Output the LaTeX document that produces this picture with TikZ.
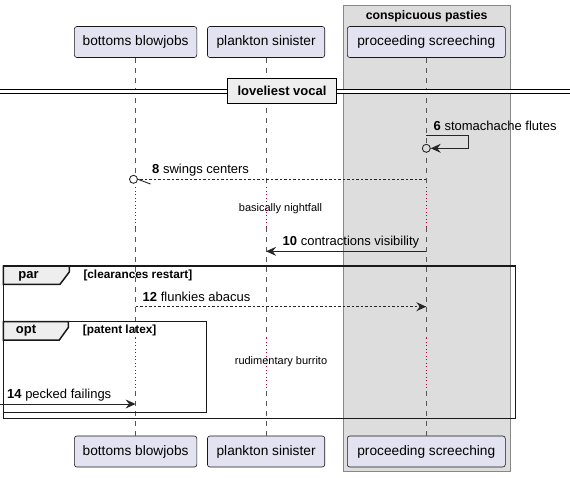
\documentclass[tikz,border=0pt]{standalone}
\usepackage{fontspec}
\setmainfont{Liberation Sans}
\usetikzlibrary{arrows.meta}
\definecolor{partfill}{HTML}{E2E2F0}
\definecolor{partdraw}{HTML}{181818}
\definecolor{grpfill}{HTML}{DDDDDD}
\definecolor{grpdraw}{HTML}{888888}
\definecolor{lifegray}{HTML}{555555}
\definecolor{delayred}{HTML}{A80036}
\definecolor{tabfill}{HTML}{EEEEEE}
\tikzset{
  part/.style={draw=partdraw, fill=partfill, rounded corners=2.5pt, line width=0.6pt,
    minimum height=31pt, inner sep=0pt, font=\fontsize{13.7}{15}\selectfont},
  lifeline/.style={draw=lifegray, line width=0.6pt, dash pattern=on 5pt off 5pt},
  delayline/.style={draw=delayred, line width=1pt, dash pattern=on 1pt off 2.5pt},
  msg/.style={draw=black!85, line width=0.9pt},
  dmsg/.style={msg, dash pattern=on 2.5pt off 2pt},
  tip/.style={-{Stealth[length=10pt,width=9pt,inset=3.5pt]}},
  lbl/.style={anchor=base west, inner sep=0pt, font=\fontsize{13}{15}\selectfont},
  delaytxt/.style={inner sep=0pt, font=\fontsize{11}{13}\selectfont},
  frame/.style={draw=black!90, line width=1.5pt},
  tabshape/.style={draw=black!90, line width=1.5pt, fill=tabfill},
  tablbl/.style={inner sep=0pt, font=\bfseries\fontsize{13}{15}\selectfont},
  condlbl/.style={anchor=west, inner sep=0pt, font=\bfseries\fontsize{11.8}{13}\selectfont},
}
\begin{document}
\begin{tikzpicture}[x=1pt,y=-1pt]
\useasboundingbox (0,0) rectangle (570,477);
% group box
\draw[fill=grpfill, draw=grpdraw, line width=0.8pt] (343.3,5.7) rectangle (510,471.7);
\node[inner sep=0pt, font=\bfseries\fontsize{12.3}{14}\selectfont] (gt) at (426.6,16) {conspicuous pasties};
% participants
\node[part, minimum width=122.4pt] (pA) at (135.6,42) {bottoms blowjobs};
\node[part, minimum width=117.3pt] (pB) at (266.1,42) {plankton sinister};
\node[part, minimum width=158pt] (pC) at (426.3,42) {proceeding screeching};
\node[part, minimum width=122.4pt] (qA) at (135.6,451.5) {bottoms blowjobs};
\node[part, minimum width=117.3pt] (qB) at (266.1,451.5) {plankton sinister};
\node[part, minimum width=158pt] (qC) at (426.3,451.5) {proceeding screeching};
% lifelines
\foreach \p/\q in {pA/qA,pB/qB,pC/qC}{
  \draw[lifeline] (\p.south) -- (\p.south |- 0,187);
  \draw[delayline] (\p.south |- 0,187) -- (\p.south |- 0,227);
  \draw[lifeline] (\p.south |- 0,227) -- (\p.south |- 0,338);
  \draw[delayline] (\p.south |- 0,338) -- (\p.south |- 0,391);
  \draw[lifeline] (\p.south |- 0,391) -- (\q.north);
}
% divider
\coordinate (dl) at (0,91.5);
\coordinate (dr) at (570,91.5);
\draw[line width=0.9pt, double distance=3pt] (dl) -- (dr);
\node[draw=black, line width=1.8pt, fill=tabfill, minimum width=109pt, minimum height=25pt, inner sep=0pt,
  font=\bfseries\fontsize{13}{15}\selectfont] (div) at (282,91) {loveliest vocal};
% message 6 (self)
\coordinate (m6a) at (pC.south |- 0,135.3);
\coordinate (m6b) at (468.3,135.3);
\coordinate (m6c) at (468.3,148.3);
\coordinate (m6d) at (pC.south |- 0,148.3);
\node[draw=black!85, line width=0.9pt, circle, minimum size=8pt, inner sep=0pt, fill=grpfill] (c6) at (m6d) {};
\draw[msg, tip] (m6a) -- (m6b) -- (m6c) -- (c6.east);
\node[lbl] (l6) at (433.5,130.5) {\textbf{6} stomachache flutes};
% message 8
\coordinate (m8a) at (pC.south |- 0,179.3);
\node[draw=black!85, line width=0.9pt, circle, minimum size=8pt, inner sep=0pt, fill=white] (c8) at (133.5,179.3) {};
\draw[dmsg] (m8a) -- (c8.east);
\coordinate (h8) at (150.5,184);
\draw[msg] (c8.east) -- (h8);
\node[lbl] (l8) at (152,173.5) {\textbf{8} swings centers};
% delay 1
\node[delaytxt] (d1) at (280.5,208.5) {basically nightfall};
% message 10
\coordinate (m10a) at (pC.south |- 0,251.3);
\coordinate (m10b) at (pB.south |- 0,251.3);
\draw[msg, tip] (m10a) -- (m10b);
\node[lbl] (l10) at (282.5,245.5) {\textbf{10} contractions visibility};
% par frame
\draw[frame] (3.3,266) rectangle (515.7,418.5);
\draw[tabshape] (3.3,266) -- (69.3,266) -- (69.3,272) -- (60,284.3) -- (3.3,284.3) -- cycle;
\node[tablbl] (par) at (28.5,276) {par};
\node[condlbl] (parc) at (83.3,275) {[clearances restart]};
% message 12
\coordinate (m12a) at (pA.south |- 0,306.7);
\coordinate (m12b) at (pC.south |- 0,306.7);
\draw[dmsg, tip] (m12a) -- (m12b);
\node[lbl] (l12) at (142.5,301) {\textbf{12} flunkies abacus};
% opt frame
\draw[frame] (3.3,321.7) rectangle (206.7,412.3);
\draw[tabshape] (3.3,321.7) -- (68.3,321.7) -- (68.3,327.5) -- (59.3,340) -- (3.3,340) -- cycle;
\node[tablbl] (opt) at (26,331) {opt};
\node[condlbl] (optc) at (82.7,330.5) {[patent latex]};
% delay 2
\node[delaytxt] (d2) at (281,362) {rudimentary burrito};
% message 14
\coordinate (m14a) at (0,404);
\coordinate (m14b) at (pA.south |- 0,404);
\draw[msg, tip] (m14a) -- (m14b);
\node[lbl] (l14) at (7,398.5) {\textbf{14} pecked failings};
\end{tikzpicture}
\end{document}
